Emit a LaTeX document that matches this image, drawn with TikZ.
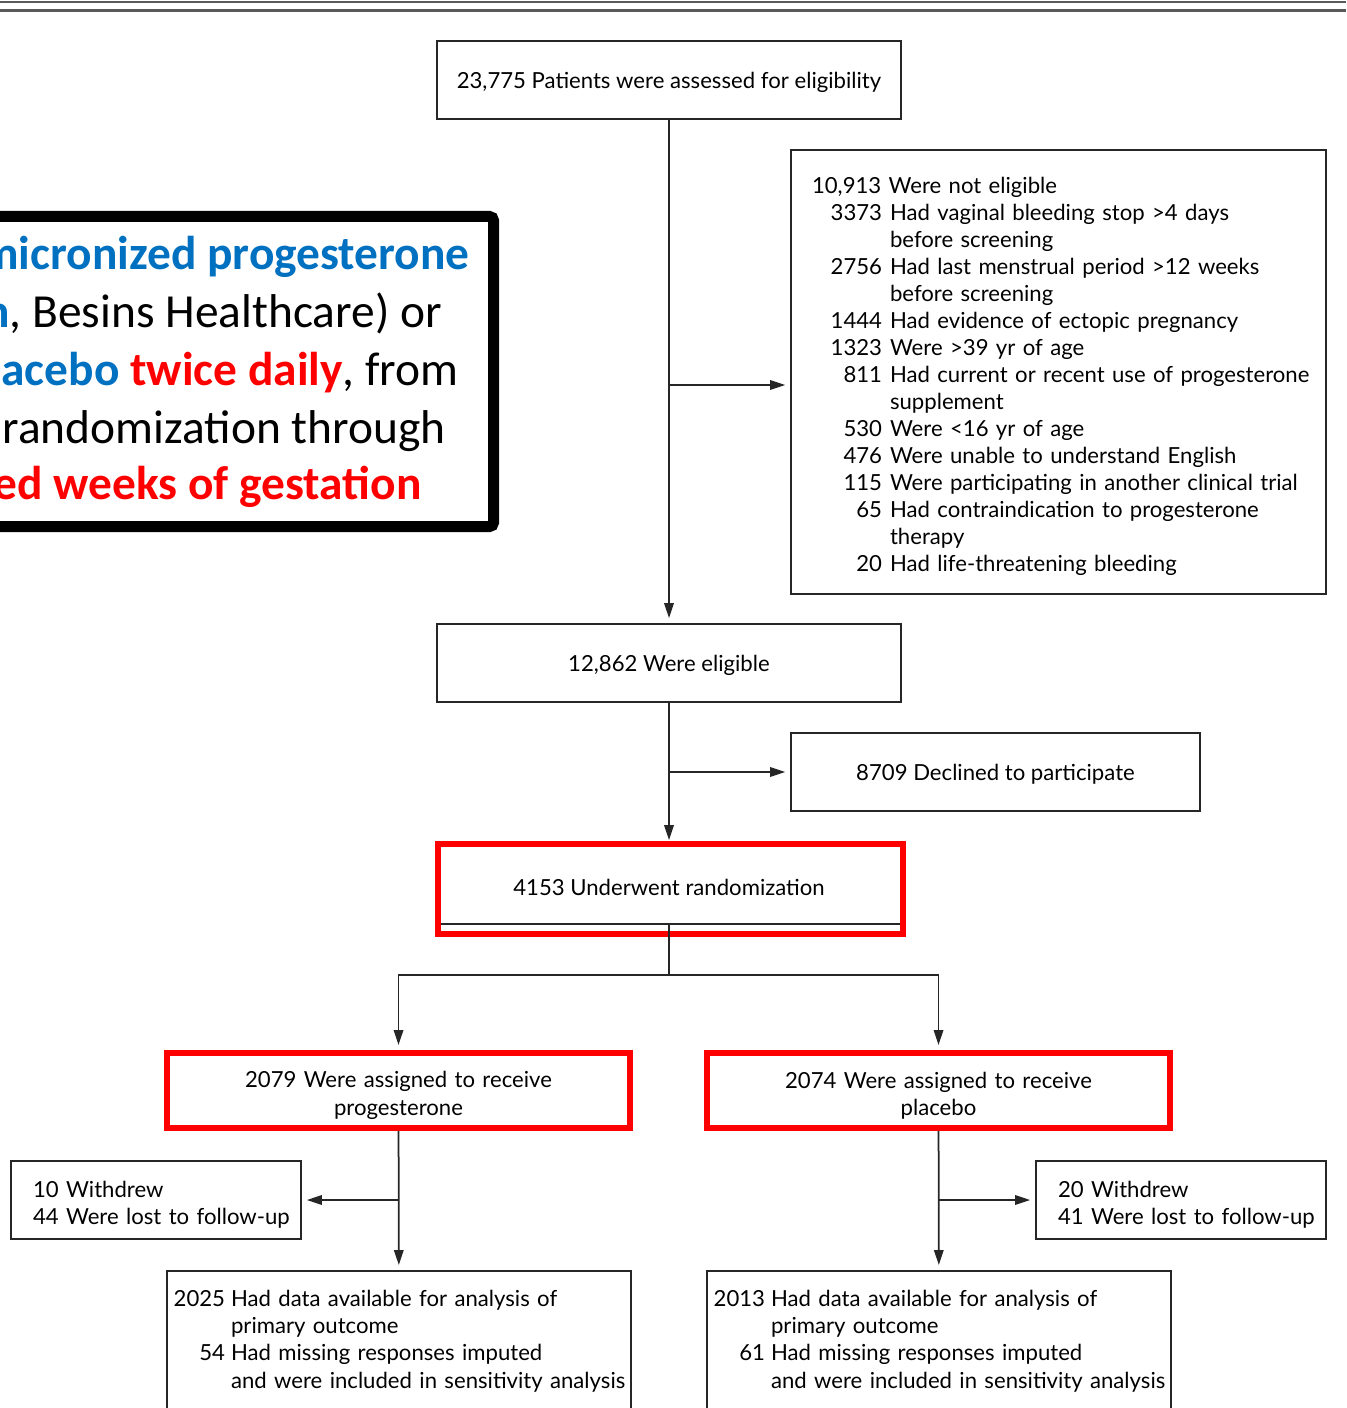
\documentclass[tikz,border=0pt]{standalone}
\usepackage{fontspec}
\usepackage{xcolor}
\newfontfamily\flowfont{Lato}
\newfontfamily\callfont{Carlito}
\usetikzlibrary{arrows.meta, positioning, calc}
\definecolor{callblue}{HTML}{0070C0}
\definecolor{callred}{HTML}{FF0000}
\newcommand{\entry}[3][1.4cm]{\makebox[#1][r]{#2}\kern0.16cm\mbox{#3}}
\newcommand{\outcome}[2]{\makebox[0.98cm][r]{#1}\kern0.12cm\mbox{#2}}
\tikzset{
    frame/.style={
        rectangle, draw=black!85, line width=0.035cm, fill=white,
        font=\flowfont\fontsize{12.6}{15.4}\selectfont, align=center,
        minimum width=9.28cm, minimum height=1.56cm, inner sep=0pt
    },
    box/.style={frame, execute at begin node={\rule{0pt}{0.42cm}}},
    listbox/.style={frame, align=left, inner xsep=0.42cm, execute at begin node={\rule{0pt}{0.5cm}}},
    hilite/.style={draw=callred, line width=0.12cm},
    picked/.style={hilite, text width=8.8cm, minimum width=9.26cm, minimum height=1.5cm, execute at begin node={\rule{0pt}{0.52cm}}},
    line/.style={draw=black!85, line width=0.035cm},
    arrow/.style={line, -{Triangle[length=0.3cm, width=0.19cm]}, shorten >=0.1cm},
    callout/.style={anchor=base east, inner sep=0pt, font=\callfont\fontsize{27}{32}\selectfont}
}
\begin{document}
\begin{tikzpicture}[x=0.02cm, y=-0.02cm]
        \useasboundingbox (0,0) rectangle (1346,1408);
        \clip (0,0) rectangle (1346,1408);
        % Rules at top
        \draw[black!65, line width=0.04cm] (0,2.5) -- (1346,2.5);
        \draw[black!65, line width=0.06cm] (0,11) -- (1346,11);

        % Layout
        \node [box] (assess) at (669,80) {23,775 Patients were assessed for eligibility};
        \node [listbox, minimum width=10.7cm, minimum height=8.88cm, text width=9.86cm] (excl) at (1058.5,372) {%
            10,913 Were not eligible\\
            \entry{3373}{Had vaginal bleeding stop >4 days}\\
            \entry{}{before screening}\\
            \entry{2756}{Had last menstrual period >12 weeks}\\
            \entry{}{before screening}\\
            \entry{1444}{Had evidence of ectopic pregnancy}\\
            \entry{1323}{Were >39 yr of age}\\
            \entry{811}{Had current or recent use of progesterone}\\
            \entry{}{supplement}\\
            \entry{530}{Were <16 yr of age}\\
            \entry{476}{Were unable to understand English}\\
            \entry{115}{Were participating in another clinical trial}\\
            \entry{65}{Had contraindication to progesterone}\\
            \entry{}{therapy}\\
            \entry{20}{Had life-threatening bleeding}};
        \node [box] (elig) at (669,663) {12,862 Were eligible};
        \node [box, minimum width=8.18cm] (decl) at (995.5,772) {8709 Declined to participate};
        \node [box] (rand) at (669,885) {4153 Underwent randomization};
        \node [frame, picked] (prog) at (398.5,1090.5) {2079 Were assigned to receive\\progesterone};
        \node [frame, picked] (plac) at (938.5,1090.5) {2074 Were assigned to receive\\placebo};
        \node [listbox, minimum width=5.8cm, text width=4.92cm, inner xsep=0.44cm] (wprog) at (156,1200) {10 Withdrew\\\mbox{44 Were lost to follow-up}};
        \node [listbox, minimum width=5.8cm, text width=4.92cm, inner xsep=0.44cm] (wplac) at (1181,1200) {20 Withdrew\\\mbox{41 Were lost to follow-up}};
        \node [listbox, anchor=north, text width=8.92cm, inner xsep=0.18cm, inner ysep=0.22cm] (aprog) at (399,1270) {%
            \outcome{2025}{Had data available for analysis of}\\
            \outcome{}{primary outcome}\\
            \outcome{54}{Had missing responses imputed}\\
            \outcome{}{and were included in sensitivity analysis\rule[-1.5cm]{0pt}{0pt}}};
        \node [listbox, anchor=north, text width=8.92cm, inner xsep=0.18cm, inner ysep=0.22cm] (aplac) at (939,1270) {%
            \outcome{2013}{Had data available for analysis of}\\
            \outcome{}{primary outcome}\\
            \outcome{61}{Had missing responses imputed}\\
            \outcome{}{and were included in sensitivity analysis\rule[-1.5cm]{0pt}{0pt}}};
        \draw [hilite] ([shift={(1.5,-1.5)}]rand.north west) rectangle ([shift={(1.5,9.5)}]rand.south east);

        % Flows
        \coordinate (out1) at (669,385);
        \coordinate (split) at (669,975);
        \draw [arrow] (assess) -- (elig);
        \draw [arrow] (out1) -- (out1 -| excl.west);
        \draw [arrow] (elig) -- (rand);
        \draw [arrow] (elig.south |- decl.west) -- (decl.west);
        \draw [line] (rand.south) -- (split);
        \draw [arrow] (split) -| (prog.north);
        \draw [arrow] (split) -| (plac.north);
        \draw [arrow] (prog) -- (aprog);
        \draw [arrow] (prog.south |- wprog.east) -- (wprog.east);
        \draw [arrow] (plac) -- (aplac);
        \draw [arrow] (plac.south |- wplac.west) -- (wplac.west);

        % Callout
        \draw [line width=0.22cm, rounded corners=0.08cm, fill=white] (-30,216.5) rectangle (493.5,526.5);
        \node [callout] (c1) at (470,270) {\textbf{\color{callblue}micronized progesterone}};
        \node [callout] (c2) at (442,328) {\textbf{\color{callblue}n}, Besins Healthcare) or};
        \node [callout] (c3) at (459,386) {\textbf{\color{callblue}acebo} \textbf{\color{callred}twice daily}, from};
        \node [callout] (c4) at (446,444) {randomization through};
        \node [callout] (c5) at (422,500) {\textbf{\color{callred}ed weeks of gestation}};
    \end{tikzpicture}
\end{document}
